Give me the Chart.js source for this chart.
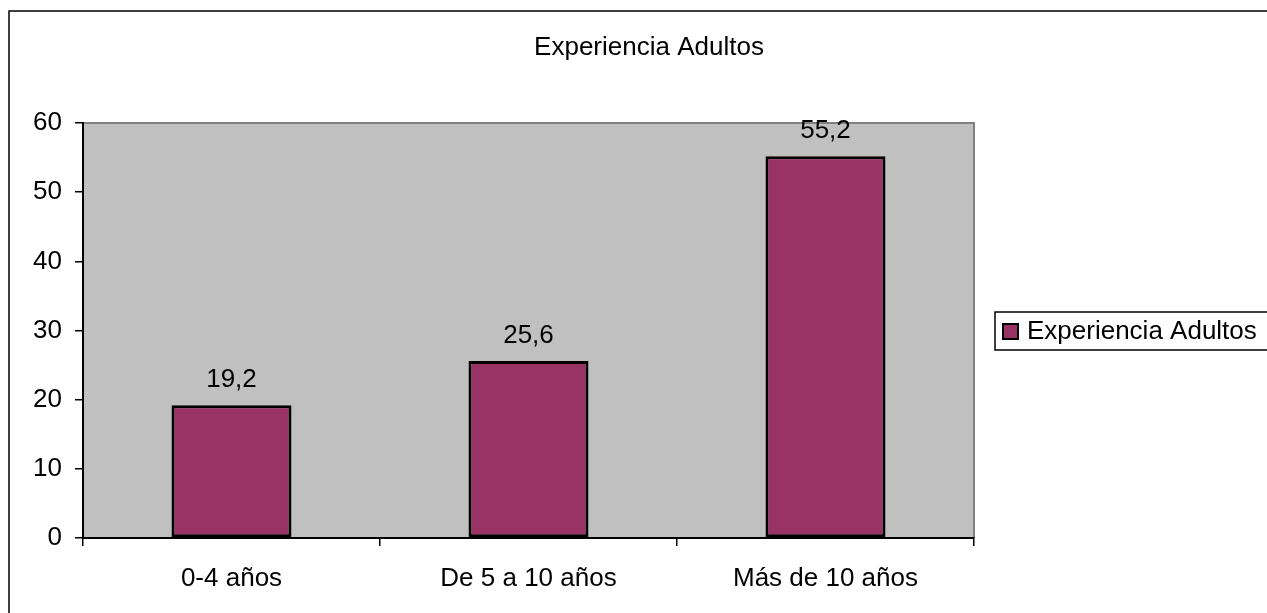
<!DOCTYPE html>
<html>
<head>
<meta charset="utf-8">
<title>Experiencia Adultos</title>
<script src="https://cdn.jsdelivr.net/npm/chart.js@4.4.1/dist/chart.umd.min.js"></script>
<style>
  html, body { margin: 0; padding: 0; background: #ffffff; }
  #wrap { width: 1267px; height: 613px; position: relative; }
</style>
</head>
<body>
<div id="wrap"><canvas id="chart" width="1267" height="613"></canvas></div>
<script>
// Data
const categories = ['0-4 años', 'De 5 a 10 años', 'Más de 10 años'];
const seriesName = 'Experiencia Adultos';
const seriesValues = [19.2, 25.6, 55.2];
const chartTitle = 'Experiencia Adultos';

const FONT = '"Liberation Sans", Arial, sans-serif';
const FONT_SIZE = 26;
const BAR_COLOR = '#993366';
const PLOT_BG = '#C0C0C0';

// Frame, plot background, title, value labels and boxed legend
const decorations = {
  id: 'decorations',
  beforeDraw(chart) {
    const ctx = chart.ctx;
    const a = chart.chartArea;
    ctx.save();
    ctx.fillStyle = '#ffffff';
    ctx.fillRect(0, 0, chart.width, chart.height);
    // outer frame
    ctx.strokeStyle = '#000000';
    ctx.lineWidth = 1.5;
    ctx.strokeRect(9, 11, chart.width + 20, chart.height + 20);
    // plot area
    ctx.fillStyle = PLOT_BG;
    ctx.fillRect(a.left, a.top, a.right - a.left, a.bottom - a.top);
    ctx.strokeStyle = '#808080';
    ctx.lineWidth = 2;
    ctx.beginPath();
    ctx.moveTo(a.left, a.top);
    ctx.lineTo(a.right, a.top);
    ctx.lineTo(a.right, a.bottom);
    ctx.stroke();
    // title
    ctx.fillStyle = '#000000';
    ctx.font = FONT_SIZE + 'px ' + FONT;
    ctx.textAlign = 'center';
    ctx.textBaseline = 'middle';
    ctx.fillText(chartTitle, 649, 48);
    ctx.restore();
  },
  afterDatasetsDraw(chart) {
    const ctx = chart.ctx;
    const meta = chart.getDatasetMeta(0);
    const data = chart.data.datasets[0].data;
    ctx.save();
    ctx.fillStyle = '#000000';
    ctx.font = FONT_SIZE + 'px ' + FONT;
    ctx.textAlign = 'center';
    ctx.textBaseline = 'alphabetic';
    meta.data.forEach((bar, i) => {
      const txt = data[i].toLocaleString('es-ES', { minimumFractionDigits: 1, maximumFractionDigits: 1 });
      ctx.fillText(txt, bar.x, bar.y - 18);
    });
    // legend
    const lx = 995, ly = 312, lh = 38;
    ctx.strokeStyle = '#000000';
    ctx.lineWidth = 1.5;
    ctx.strokeRect(lx, ly, chart.width - lx + 10, lh);
    ctx.fillStyle = BAR_COLOR;
    ctx.fillRect(1003, 324, 15, 15);
    ctx.lineWidth = 2;
    ctx.strokeRect(1003, 324, 15, 15);
    ctx.fillStyle = '#000000';
    ctx.textAlign = 'left';
    ctx.textBaseline = 'middle';
    ctx.fillText(chart.data.datasets[0].label, 1027, 332);
    ctx.restore();
  }
};

new Chart(document.getElementById('chart'), {
  type: 'bar',
  data: {
    labels: categories,
    datasets: [{
      label: seriesName,
      data: seriesValues,
      backgroundColor: BAR_COLOR,
      borderColor: '#000000',
      borderWidth: 3,
      borderSkipped: false,
      barPercentage: 0.404,
      categoryPercentage: 1.0
    }]
  },
  options: {
    responsive: false,
    animation: false,
    devicePixelRatio: 1,
    layout: { padding: { top: 123, left: 0, right: 293, bottom: 15 } },
    plugins: {
      legend: { display: false },
      title: { display: false },
      tooltip: { enabled: false }
    },
    scales: {
      x: {
        offset: true,
        grid: {
          offset: true,
          drawOnChartArea: false,
          drawTicks: true,
          tickLength: 8,
          color: '#000000',
          lineWidth: 1.5
        },
        border: { display: true, color: '#000000', width: 2 },
        ticks: {
          color: '#000000',
          font: { family: FONT, size: FONT_SIZE },
          padding: 17,
          maxRotation: 0
        },
        afterFit(scale) { scale.height = 60; }
      },
      y: {
        min: 0,
        max: 60,
        grid: {
          drawOnChartArea: false,
          drawTicks: true,
          tickLength: 8,
          color: '#000000',
          lineWidth: 1.5
        },
        border: { display: true, color: '#000000', width: 2 },
        ticks: {
          stepSize: 10,
          color: '#000000',
          font: { family: FONT, size: FONT_SIZE },
          padding: 13
        },
        afterFit(scale) { scale.width = 83; }
      }
    }
  },
  plugins: [decorations]
});
</script>
</body>
</html>
